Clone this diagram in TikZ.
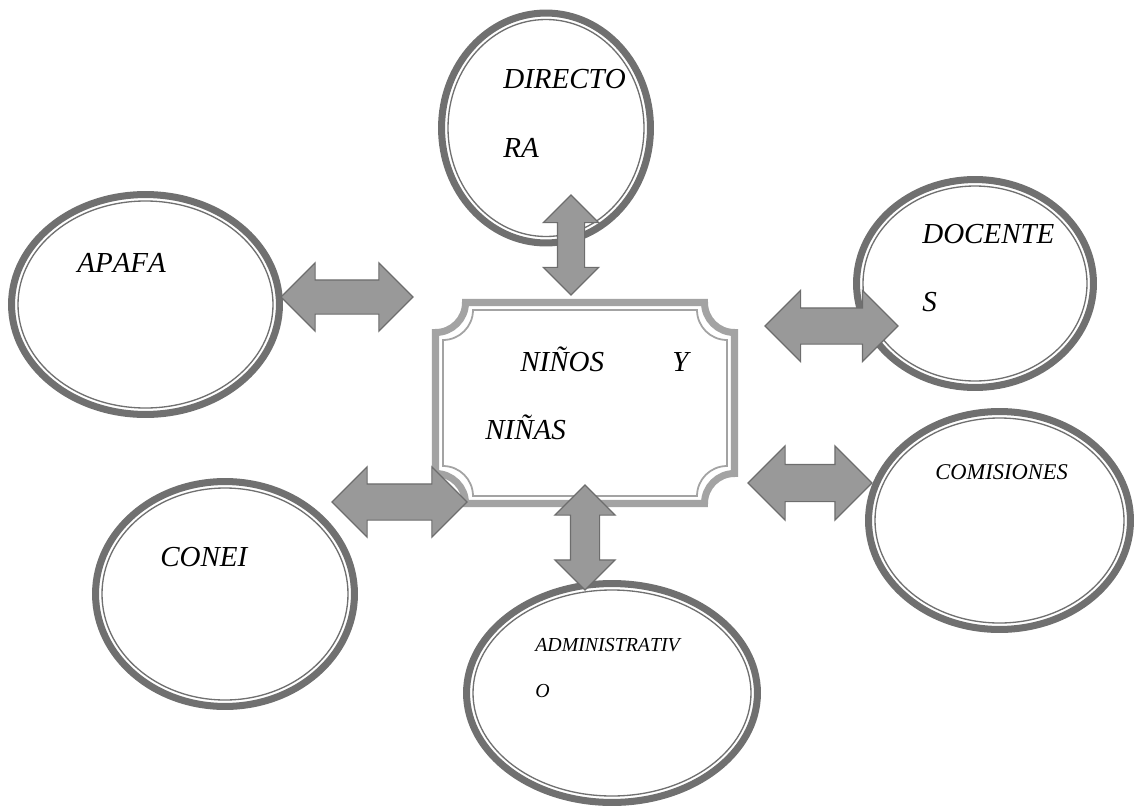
\documentclass[tikz,border=0pt]{standalone}
\usepackage{fontspec}
\setmainfont[Kerning=Off]{Liberation Serif}
\usetikzlibrary{shapes.geometric,shapes.arrows}
\definecolor{edge}{HTML}{707070}
\definecolor{plaq}{HTML}{A3A3A3}
\definecolor{pilfill}{HTML}{999999}
\definecolor{pilrim}{HTML}{6D6D6D}

\begin{document}
\begin{tikzpicture}[x=0.02cm, y=-0.02cm,
    unit/.style={ellipse, draw=edge, line width=4pt, fill=white, inner sep=0pt, outer sep=0pt},
    ring/.style={draw=edge, line width=0.75pt},
    frame/.style={draw=plaq, line width=4pt, fill=white},
    rim/.style={draw=plaq, line width=1pt},
    pil/.style={double arrow, draw=pilrim, fill=pilfill, line width=0.7pt},
    lbl/.style={anchor=base west, inner sep=0pt, font=\fontsize{16.5}{20}\selectfont\itshape}
    ]
    \useasboundingbox (0,0) rectangle (1136,808);
    \foreach \n/\x/\y/\a/\b in {dir/546/128/104.5/115, apafa/145.5/304.5/134/110,
        doc/975/283.5/118.5/104, com/999.5/520.5/131/109,
        conei/225/594/129.5/112.5, adm/612/693/145.5/109.5}{
      \node[unit, minimum width={0.04cm*\a}, minimum height={0.04cm*\b}] at (\x,\y) (\n) {};
      \draw[ring] (\n.center) ellipse [x radius=\a-6.5, y radius=\b-6.5];
    }
    \draw[frame] (465.5,302.5) -- (704.5,302.5) arc[start angle=180, end angle=90, radius=30]
      -- (734.5,473.5) arc[start angle=270, end angle=180, radius=30]
      -- (465.5,503.5) arc[start angle=360, end angle=270, radius=30]
      -- (435.5,332.5) arc[start angle=90, end angle=0, radius=30] -- cycle;
    \draw[rim] (473,310) -- (697,310) arc[start angle=180, end angle=90, radius=30]
      -- (727,466) arc[start angle=270, end angle=180, radius=30]
      -- (473,496) arc[start angle=360, end angle=270, radius=30]
      -- (443,340) arc[start angle=90, end angle=0, radius=30] -- cycle;

    \node[lbl] at (503,88) (dirA) {DIRECTO};
    \node[lbl] at (503,157) (dirB) {RA};
    \node[lbl] at (77,272) (apafaA) {APAFA};
    \node[lbl] at (922,243) (docA) {DOCENTE};
    \node[lbl] at (922,311) (docB) {S};
    \node[lbl] at (520,371) (kidsA) {NIÑOS};
    \node[lbl] at (672,371) (kidsY) {Y};
    \node[lbl] at (485,439) (kidsB) {NIÑAS};
    \node[lbl, font=\fontsize{12.8}{15}\selectfont\itshape] at (935,479) (comA) {COMISIONES};
    \node[lbl, font=\fontsize{11.3}{14}\selectfont\itshape] at (535,651) (admA) {ADMINISTRATIV};
    \node[lbl, font=\fontsize{11.3}{14}\selectfont\itshape] at (535,697) (admB) {O};
    \node[lbl] at (160,566) (coneiA) {CONEI};

    \node[pil, inner sep=0.33cm, minimum height=2.64cm, double arrow head extend=0.34cm] at (347,297) (p1) {};
    \node[pil, inner sep=0.26cm, minimum height=2.0cm, double arrow head extend=0.28cm, rotate=90] at (571,245) (p2) {};
    \node[pil, inner sep=0.35cm, minimum height=2.66cm, double arrow head extend=0.35cm] at (831.5,326) (p3) {};
    \node[pil, inner sep=0.36cm, minimum height=2.48cm, double arrow head extend=0.37cm] at (810,483) (p4) {};
    \node[pil, inner sep=0.35cm, minimum height=2.70cm, double arrow head extend=0.34cm] at (399.5,502) (p5) {};
    \node[pil, inner sep=0.28cm, minimum height=2.10cm, double arrow head extend=0.31cm, rotate=90] at (585,537.5) (p6) {};
\end{tikzpicture}
\end{document}
